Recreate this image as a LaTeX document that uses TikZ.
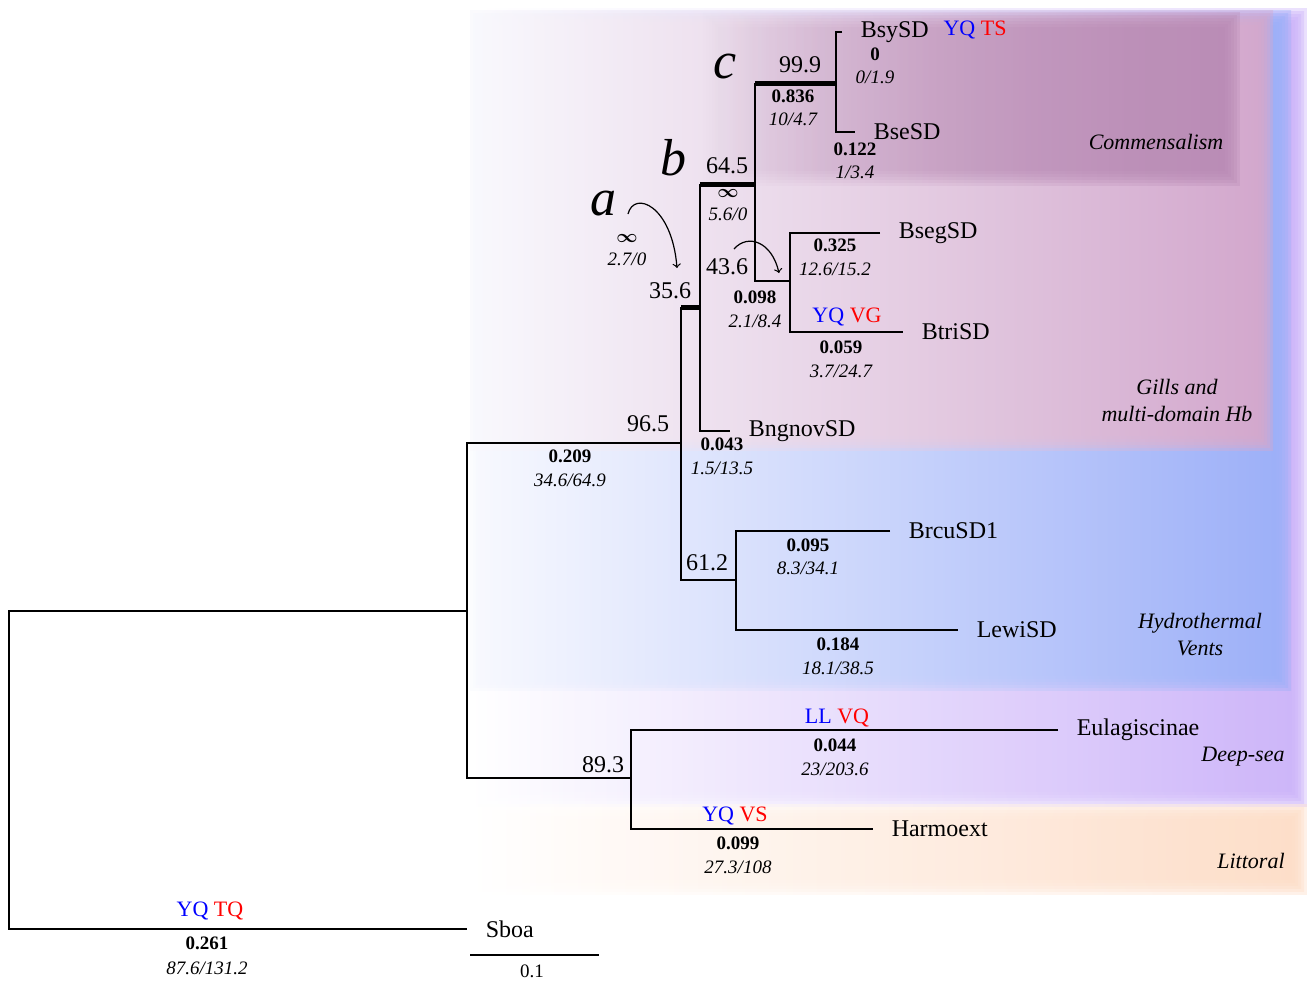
\documentclass[tikz,border=0pt]{standalone}
\usepackage{fontspec}
\setmainfont{Liberation Serif}
\usepackage{amsmath}
\usepackage{tikz}
\usetikzlibrary{fadings}

\definecolor{vent}{HTML}{9CB0F8}
\definecolor{deep}{HTML}{CBB2F9}
\definecolor{gill}{HTML}{D6A8CC}
\definecolor{lilac}{HTML}{D8CAEF}
\definecolor{comm}{HTML}{B88AB4}
\definecolor{litt}{HTML}{FDDCC6}

% soft-edged shaded zone: left, middle, right colour, corners
\newcommand\zone[7]{%
  \foreach \k in {0,...,5}
    \shade[left color=#1,middle color=#2,right color=#3,opacity=0.4]
      ({#4+3*\k},{#5+3*\k}) rectangle ({#6-3*\k},{#7-3*\k});}
% soft-edged zone fading in from the left
\newcommand\fadezone[5]{%
  \foreach \k in {0,...,5}
    \fill[#1,opacity=0.3,path fading=west]
      ({#2+3*\k},{#3+3*\k}) rectangle ({#4-3*\k},{#5-3*\k});}

\begin{document}
\begin{tikzpicture}[x=0.5pt,y=-0.5pt,line width=0.75pt,
  leaf/.style={anchor=west,inner xsep=9pt,font=\fontsize{12}{14}\selectfont},
  boot/.style={font=\fontsize{12}{14}\selectfont},
  len/.style={font=\fontsize{9.5}{11}\selectfont\bfseries},
  sub/.style={font=\fontsize{9.5}{11}\selectfont\itshape},
  mut/.style={font=\fontsize{11}{13}\selectfont},
  tag/.style={font=\fontsize{26}{28}\selectfont\itshape},
  zonelabel/.style={font=\fontsize{11}{13.5}\selectfont\itshape,align=center},
  strong/.style={line width=2.5pt}]
  \useasboundingbox (0,0) rectangle (1307,981);

  % habitat zones
  \zone{white}{white!55!deep}{deep}{470}{8}{1307}{806}
  \zone{white!92!vent}{white!45!vent}{vent}{470}{10}{1291}{690}
  \zone{white!88!lilac}{lilac}{gill}{470}{10}{1273}{450}
  \fadezone{comm}{700}{12}{1240}{186}
  \zone{white}{white!55!litt}{litt}{470}{804}{1307}{894}

  \node[zonelabel] (zcomm) at (1156,142) {Commensalism};
  \node[zonelabel] (zgill) at (1177,400) {Gills and\\multi-domain Hb};
  \node[zonelabel] (zvent) at (1200,635) {Hydrothermal\\Vents};
  \node[zonelabel] (zdeep) at (1243,757) {Deep-sea};
  \node[zonelabel] (zlitt) at (1251,861) {Littoral};

  % internal nodes
  \coordinate (r) at (9,611);
  \coordinate (n1) at (467,611);
  \coordinate (n2) at (681,443);
  \coordinate (n3) at (700,307);
  \coordinate (n4) at (755,184);
  \coordinate (n5) at (836,83);
  \coordinate (n6) at (790,281);
  \coordinate (n7) at (736,580);
  \coordinate (n8) at (631,778);

  % tips
  \node[leaf] (bsy) at (842,32) {BsySD};
  \node[leaf] (bse) at (855,132) {BseSD};
  \node[leaf] (bseg) at (880,233) {BsegSD};
  \node[leaf] (btri) at (903,332) {BtriSD};
  \node[leaf] (bngnov) at (730,431) {BngnovSD};
  \node[leaf] (brcu) at (890,531) {BrcuSD1};
  \node[leaf] (lewi) at (958,630) {LewiSD};
  \node[leaf] (eula) at (1058,730) {Eulagiscinae};
  \node[leaf] (harmo) at (873,829) {Harmoext};
  \node[leaf] (sboa) at (467,929) {Sboa};

  % branches
  \draw (n1) -- (r) |- (sboa);
  \draw (n2) -| (n1) |- (n8);
  \draw (n2) |- (n7);
  \draw (n2) -- (n2 |- n3);
  \draw [strong] (n2 |- n3) -- (n3);
  \draw (n3) |- (bngnov);
  \draw (n3) -- (n3 |- n4);
  \draw [strong] (n3 |- n4) -- (n4);
  \draw (n4) |- (n6);
  \draw (n4) -- (n4 |- n5);
  \draw [strong] (n4 |- n5) -- (n5);
  \draw (bsy) -| (n5) |- (bse);
  \draw (bseg) -| (n6) |- (btri);
  \draw (brcu) -| (n7) |- (lewi);
  \draw (eula) -| (n8) |- (harmo);

  % support values
  \node[boot] (b965) at (648,424) {96.5};
  \node[boot] (b356) at (670,291) {35.6};
  \node[boot] (b645) at (727,166) {64.5};
  \node[boot] (b999) at (800,65) {99.9};
  \node[boot] (b436) at (727,267) {43.6};
  \node[boot] (b612) at (707,563) {61.2};
  \node[boot] (b893) at (603,765) {89.3};

  % branch lengths and ratios
  \node[len] (l1) at (207,943) {0.261};
  \node[sub] (s1) at (207,968) {87.6/131.2};
  \node[len] (l2) at (570,456) {0.209};
  \node[sub] (s2) at (570,480) {34.6/64.9};
  \node[len] (l3) at (627,238) {$\boldsymbol{\infty}$};
  \node[sub] (s3) at (627,259) {2.7/0};
  \node[len] (l4) at (728,193) {$\boldsymbol{\infty}$};
  \node[sub] (s4) at (728,214) {5.6/0};
  \node[len] (l5) at (793,96) {0.836};
  \node[sub] (s5) at (793,119) {10/4.7};
  \node[len] (l6) at (875,54) {0};
  \node[sub] (s6) at (875,77) {0/1.9};
  \node[len] (l7) at (855,149) {0.122};
  \node[sub] (s7) at (855,172) {1/3.4};
  \node[len] (l8) at (755,297) {0.098};
  \node[sub] (s8) at (755,321) {2.1/8.4};
  \node[len] (l9) at (835,245) {0.325};
  \node[sub] (s9) at (835,269) {12.6/15.2};
  \node[len] (l10) at (841,347) {0.059};
  \node[sub] (s10) at (841,371) {3.7/24.7};
  \node[len] (l11) at (722,444) {0.043};
  \node[sub] (s11) at (722,468) {1.5/13.5};
  \node[len] (l12) at (808,545) {0.095};
  \node[sub] (s12) at (808,568) {8.3/34.1};
  \node[len] (l13) at (838,644) {0.184};
  \node[sub] (s13) at (838,668) {18.1/38.5};
  \node[len] (l14) at (835,745) {0.044};
  \node[sub] (s14) at (835,769) {23/203.6};
  \node[len] (l15) at (738,843) {0.099};
  \node[sub] (s15) at (738,867) {27.3/108};

  % substitutions
  \node[mut] (m1) at (210,911) {\textcolor{blue}{YQ} \textcolor{red}{TQ}};
  \node[mut] (m2) at (975,30) {\textcolor{blue}{YQ} \textcolor{red}{TS}};
  \node[mut] (m3) at (847,317) {\textcolor{blue}{YQ} \textcolor{red}{VG}};
  \node[mut] (m4) at (837,718) {\textcolor{blue}{LL} \textcolor{red}{VQ}};
  \node[mut] (m5) at (735,816) {\textcolor{blue}{YQ} \textcolor{red}{VS}};

  % clade letters and arrows
  \node[tag] (ta) at (603,204) {a};
  \node[tag] (tb) at (673,158) {b};
  \node[tag] (tc) at (725,66) {c};
  \coordinate (a0) at (628,214);
  \coordinate (a1) at (677,268);
  \draw [->,line width=0.6pt] (a0) .. controls (634,190) and (672,205) .. (a1);
  \coordinate (a2) at (734,249);
  \coordinate (a3) at (779,273);
  \draw [->,line width=0.6pt] (a2) .. controls (748,233) and (772,242) .. (a3);

  % scale
  \coordinate (sb0) at (470,955);
  \coordinate (sb1) at (599,955);
  \draw (sb0) -- (sb1);
  \node[sub,font=\fontsize{9.5}{11}\selectfont] (sbl) at (532,971) {0.1};
\end{tikzpicture}
\end{document}
